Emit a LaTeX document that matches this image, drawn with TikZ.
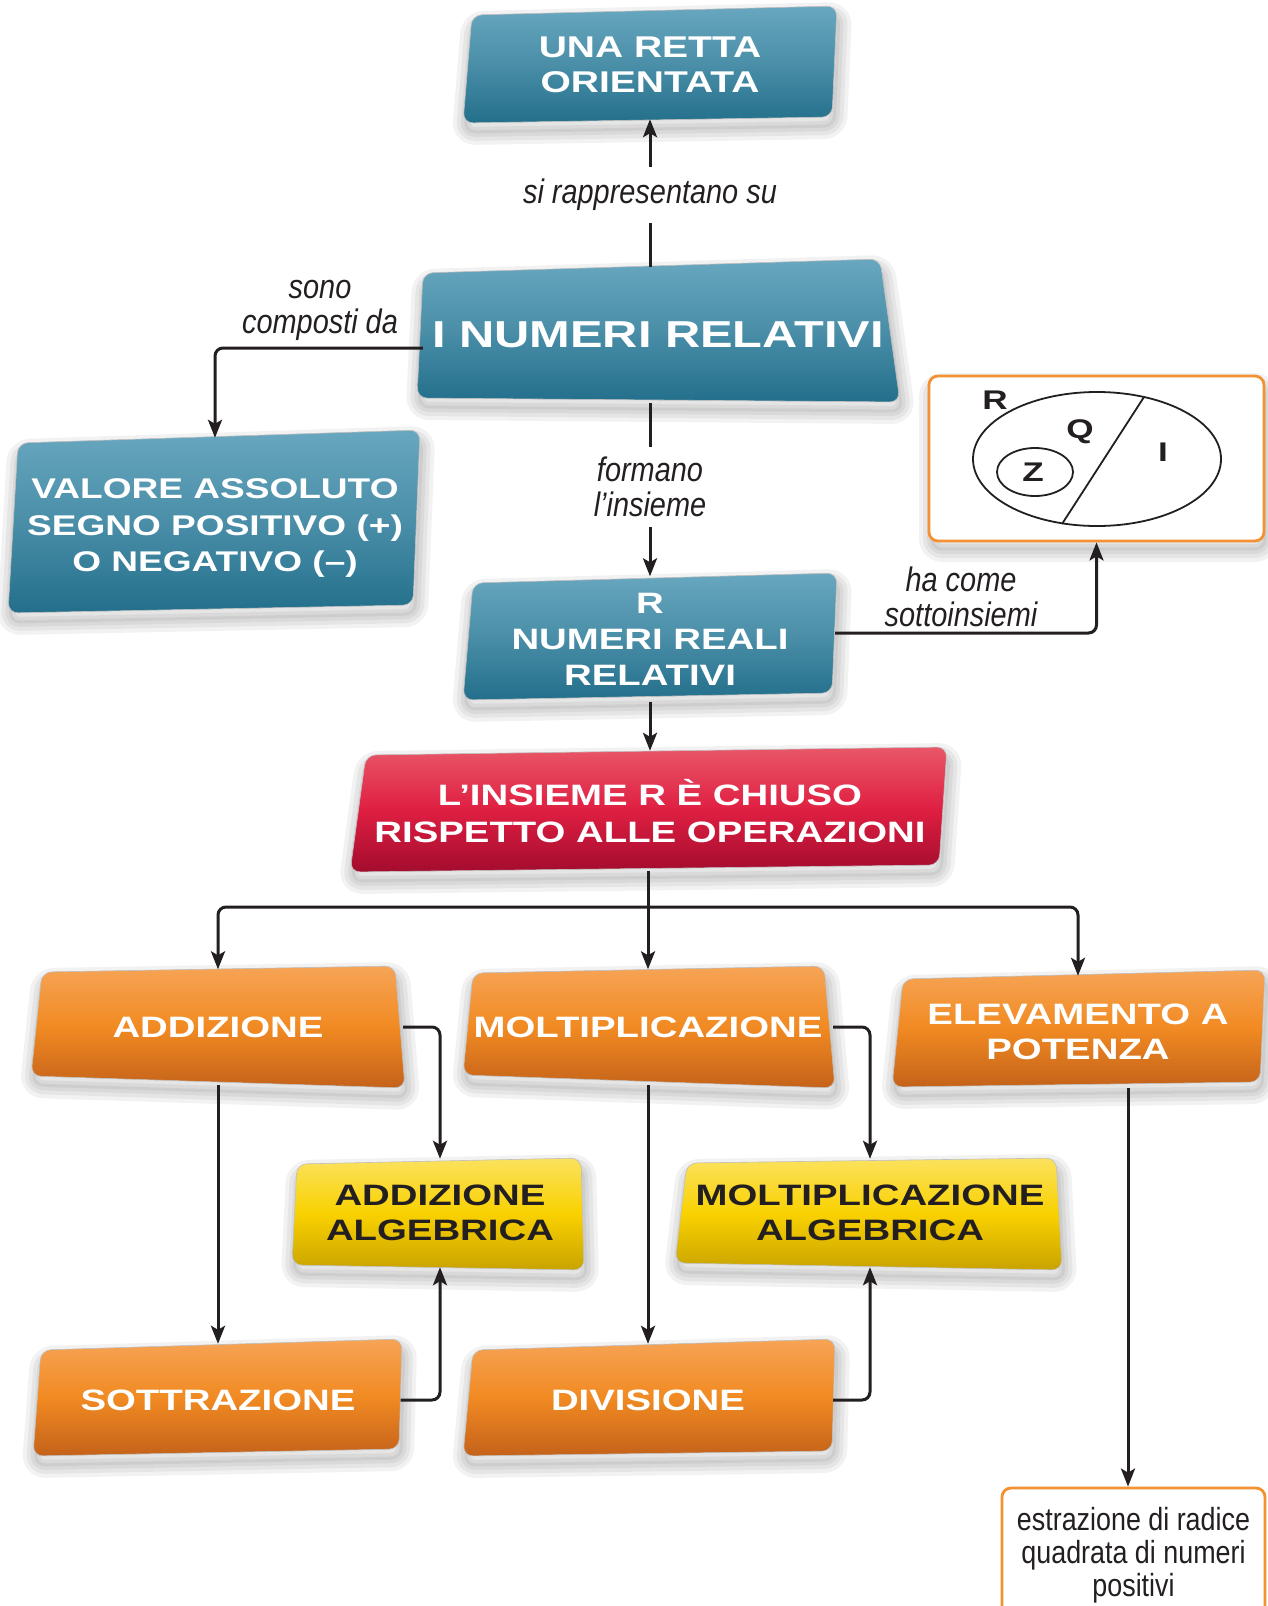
\documentclass[tikz,border=0pt]{standalone}
\usepackage{fontspec}
\usetikzlibrary{arrows.meta,calc}
\newfontfamily\wideb[FakeStretch=1.3]{Liberation Sans Bold}
\newfontfamily\labfont[FakeStretch=0.85]{Liberation Sans Italic}
\newfontfamily\condfont[FakeStretch=0.84]{Liberation Sans}
\definecolor{ink}{HTML}{231F20}
\definecolor{bTop}{HTML}{68A7BF}\definecolor{bMid}{HTML}{4A8EA8}\definecolor{bBot}{HTML}{236F8B}
\definecolor{rTop}{HTML}{E95768}\definecolor{rMid}{HTML}{DF1F42}\definecolor{rBot}{HTML}{A30C2E}
\definecolor{oTop}{HTML}{F6A456}\definecolor{oMid}{HTML}{F18A22}\definecolor{oBot}{HTML}{C4621A}
\definecolor{yTop}{HTML}{FBE25E}\definecolor{yMid}{HTML}{F9D100}\definecolor{yBot}{HTML}{C9A300}
\definecolor{ornBorder}{HTML}{F39233}
\tikzset{
  blueshade/.style={top color=bTop, bottom color=bBot, middle color=bMid},
  redshade/.style={top color=rTop, bottom color=rBot, middle color=rMid},
  orangeshade/.style={top color=oTop, bottom color=oBot, middle color=oMid},
  yellowshade/.style={top color=yTop, bottom color=yBot, middle color=yMid},
  bt/.style={inner sep=0pt, align=center, text=white, font=\wideb\fontsize{29.5}{36}\selectfont},
  yt/.style={bt, text=ink},
  lab/.style={inner sep=0pt, align=center, text=ink, font=\labfont\fontsize{34}{35}\selectfont},
  setletter/.style={inner sep=0pt, text=ink, font=\wideb\fontsize{27}{27}\selectfont},
  framebox/.style={draw=ornBorder, line width=2.8pt, rounded corners=9pt, fill=white, inner sep=0pt},
  ln/.style={draw=ink, line width=3pt, rounded corners=8pt},
  arr/.style={ln, -{Stealth[length=18pt,width=14pt,inset=4pt]}},
  venn/.style={draw=ink, line width=1.8pt},
}
\newcommand\qshadow[4]{%
  \begin{scope}[shift={(2,9)}]
    \foreach \w in {26,18,10,3}{\draw[black,opacity=0.05,line width=\w pt,line join=round,rounded corners=10pt] #1 -- #2 -- #3 -- #4 -- cycle;}
  \end{scope}}
\newcommand\qshape[5]{%
  \qshadow{#2}{#3}{#4}{#5}%
  \shade[#1, rounded corners=10pt, draw=black!25, line width=0.6pt] #2 -- #3 -- #4 -- #5 -- cycle;}
\begin{document}
\begin{tikzpicture}[x=1pt,y=-1pt]
\useasboundingbox[fill=white] (0,0) rectangle (1268,1606);
\clip (0,0) rectangle (1268,1606);

% ---- box shapes
\qshape{blueshade}{(472,15)}{(837,6)}{(832,117)}{(463,123)}
\qshape{blueshade}{(423,273)}{(880,259)}{(900,402)}{(417,398)}
\qshape{blueshade}{(18,443)}{(420,430)}{(413,605)}{(8,613)}
\qshape{blueshade}{(473,583)}{(837,573)}{(832,693)}{(463,700)}
\qshape{redshade}{(366,755)}{(947,747)}{(939,865)}{(350,872)}
\qshape{orangeshade}{(42,972)}{(395,966)}{(405,1088)}{(31,1076)}
\qshape{orangeshade}{(473,973)}{(824,966)}{(835,1088)}{(463,1075)}
\qshape{orangeshade}{(903,979)}{(1265,970)}{(1260,1082)}{(892,1087)}
\qshape{yellowshade}{(297,1164)}{(581,1158)}{(584,1270)}{(292,1265)}
\qshape{yellowshade}{(687,1163)}{(1056,1158)}{(1062,1270)}{(675,1263)}
\qshape{orangeshade}{(41,1350)}{(402,1339)}{(399,1449)}{(33,1456)}
\qshape{orangeshade}{(473,1350)}{(835,1339)}{(832,1451)}{(463,1456)}
\qshadow{(930,377)}{(1263,377)}{(1263,540)}{(930,540)}

% ---- nodes
\node[bt, font=\wideb\fontsize{30}{35.5}\selectfont, minimum width=370pt, minimum height=108pt] (retta) at (650,65) {UNA RETTA\\ORIENTATA};
\node[bt, font=\wideb\fontsize{37.5}{40}\selectfont, minimum width=470pt, minimum height=135pt] (numeri) at (658,335) {I NUMERI RELATIVI};
\node[bt, font=\wideb\fontsize{28.5}{36.5}\selectfont, minimum width=405pt, minimum height=180pt] (valore) at (215,528) {VALORE ASSOLUTO\\SEGNO POSITIVO (+)\\O NEGATIVO (–)};
\node[bt, minimum width=370pt, minimum height=125pt] (rnum) at (650,639) {R\\NUMERI REALI\\RELATIVI};
\node[bt, font=\wideb\fontsize{29.5}{37}\selectfont, minimum width=590pt, minimum height=120pt] (insieme) at (650,811) {L’INSIEME R È CHIUSO\\RISPETTO ALLE OPERAZIONI};
\node[bt, minimum width=370pt, minimum height=115pt] (addiz) at (218,1027) {ADDIZIONE};
\node[bt, minimum width=370pt, minimum height=115pt] (molt) at (648,1027) {MOLTIPLICAZIONE};
\node[bt, font=\wideb\fontsize{29.5}{35}\selectfont, minimum width=370pt, minimum height=112pt] (elev) at (1078,1032) {ELEVAMENTO A\\POTENZA};
\node[yt, font=\wideb\fontsize{29.5}{35}\selectfont, minimum width=290pt, minimum height=108pt] (addalg) at (440,1213) {ADDIZIONE\\ALGEBRICA};
\node[yt, font=\wideb\fontsize{29.5}{35}\selectfont, minimum width=385pt, minimum height=108pt] (moltalg) at (870,1213) {MOLTIPLICAZIONE\\ALGEBRICA};
\node[bt, minimum width=365pt, minimum height=112pt] (sottr) at (218,1400) {SOTTRAZIONE};
\node[bt, minimum width=370pt, minimum height=112pt] (divis) at (648,1400) {DIVISIONE};

\node[framebox, minimum width=335pt, minimum height=165pt] (subset) at (1096.5,458.5) {};
\node[framebox, minimum width=263pt, minimum height=134pt, text=ink, align=center, font=\condfont\fontsize{32}{33}\selectfont] (estr) at (1133.5,1555) {estrazione di radice\\quadrata di numeri\\positivi};

% ---- Venn diagram
\draw[venn] (1097,459) ellipse [x radius=124pt, y radius=67pt];
\draw[venn] (1035,472) ellipse [x radius=38pt, y radius=24pt];
\draw[venn] (1144,397) -- (1062,524);
\node[setletter] (setR) at (995,400) {R};
\node[setletter] (setQ) at (1080,432) {Q};
\node[setletter] (setI) at (1163,452) {I};
\node[setletter] (setZ) at (1033,472) {Z};

% ---- labels
\node[lab] (lsono) at (320,310) {sono\\composti da};
\node[lab, minimum height=56pt] (lrapp) at (650,195) {si rappresentano su};
\node[lab, minimum height=80pt] (lform) at (650,487) {formano\\l’insieme};
\node[lab] (lha) at (961,597) {ha come\\sottoinsiemi};

% ---- connectors
\draw[ln] (numeri.north -| lrapp.south) -- (lrapp.south);
\draw[arr] (lrapp.north) -- (retta.south -| lrapp.north);
\draw[arr] ([yshift=-13pt]numeri.west) -| (valore.north);
\draw[ln] (numeri.south -| lform.north) -- (lform.north);
\draw[arr] (lform.south) -- (rnum.north -| lform.south);
\draw[arr] ([yshift=6pt]rnum.east) -| (subset.south);
\draw[arr] (rnum.south -| insieme.north) -- (insieme.north);
\coordinate (hub) at (648,907);
\draw[arr] (insieme.south -| molt.north) -- (molt.north);
\draw[arr] (hub) -| (addiz.north);
\draw[arr] (hub) -| (elev.north);
\draw[arr] (addiz.east) -| (addalg.north);
\draw[arr] (molt.east) -| (moltalg.north);
\draw[arr] (addiz.south) -- (sottr.north);
\draw[arr] (molt.south) -- (divis.north);
\draw[arr] (sottr.east) -| (addalg.south);
\draw[arr] (divis.east) -| (moltalg.south);
\draw[arr] ([xshift=50pt]elev.south) -- ([xshift=-5.5pt]estr.north);
\end{tikzpicture}
\end{document}
